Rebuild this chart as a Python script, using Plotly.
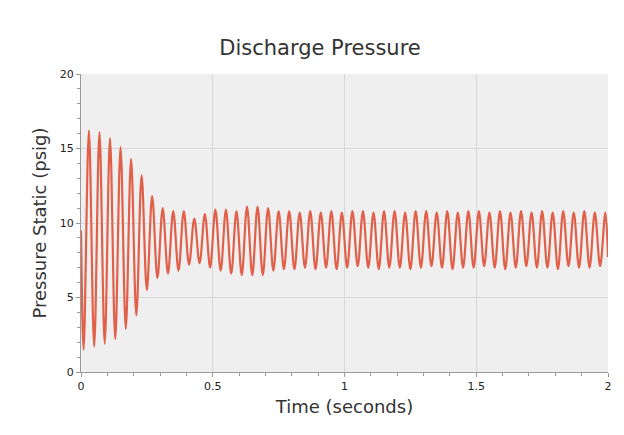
import plotly.graph_objects as go

# values, one peak and one trough per ~0.04 s cycle
period = 0.04
start_value = 9.5
end_value = 7.7

trough_values = [
    1.5, 1.7, 1.9, 2.2, 2.9, 3.8, 5.5, 6.3, 6.6, 6.8,
    7.2, 7.3, 7.0, 6.8, 6.6, 6.5, 6.5, 6.5, 6.8, 6.9,
    6.9, 7.0, 6.9, 7.0, 6.9, 7.0, 7.1, 7.0, 6.9, 7.0,
    7.0, 6.9, 7.0, 7.1, 7.0, 6.9, 7.0, 7.0, 7.1, 7.0,
    6.9, 7.0, 7.1, 7.0, 7.0, 6.9, 7.1, 7.0, 7.0, 7.1,
]
peak_values = [
    16.2, 16.1, 15.7, 15.1, 14.3, 13.2, 11.8, 11.0, 10.8, 10.8,
    10.3, 10.6, 10.9, 10.9, 10.8, 11.1, 11.1, 11.0, 10.8, 10.8,
    10.7, 10.8, 10.7, 10.8, 10.7, 10.8, 10.8, 10.7, 10.8, 10.8,
    10.7, 10.8, 10.8, 10.7, 10.8, 10.7, 10.8, 10.8, 10.7, 10.8,
    10.7, 10.8, 10.7, 10.8, 10.7, 10.8, 10.7, 10.8, 10.7, 10.7,
]

t = [0.0]
p = [start_value]
for k, (lo, hi) in enumerate(zip(trough_values, peak_values)):
    t += [k * period + 0.01, k * period + 0.03]
    p += [lo, hi]
t.append(2.0)
p.append(end_value)

fig = go.Figure()
fig.add_trace(
    go.Scatter(
        x=t,
        y=p,
        mode="lines",
        line=dict(color="#e0604a", width=2.2, shape="spline"),
        showlegend=False,
    )
)

axis_common = dict(
    showgrid=True,
    gridcolor="#d8d8d8",
    showline=True,
    linecolor="#999999",
    ticks="outside",
    ticklen=4,
    tickcolor="#999999",
    tickfont=dict(size=11, color="#222222"),
    zeroline=False,
    automargin=False,
    minor=dict(ticks="outside", ticklen=3, tickcolor="#999999", showgrid=False),
)

fig.update_layout(
    width=624,
    height=435,
    margin=dict(l=73, r=24, t=66, b=71, autoexpand=False),
    paper_bgcolor="white",
    plot_bgcolor="#efefef",
    font=dict(family="DejaVu Sans", color="#333333"),
    title=dict(text="Discharge Pressure", x=0.5, y=0.925, xanchor="center",
               font=dict(size=21, color="#333333")),
    xaxis=dict(axis_common, range=[0, 2], dtick=0.5,
               title=dict(text="Time (seconds)", font=dict(size=18), standoff=8)),
    yaxis=dict(axis_common, range=[0, 20], dtick=5,
               title=dict(text="Pressure Static (psig)", font=dict(size=18), standoff=8)),
)

fig.write_html("out.html")
